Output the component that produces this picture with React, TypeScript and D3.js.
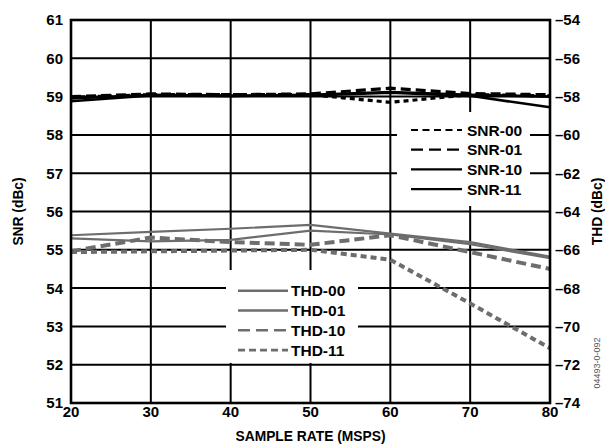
import React from "react";
import * as d3 from "d3";

const sampleRates = [20, 30, 40, 50, 60, 70, 80];
const snr00 = [58.98, 59.05, 59.05, 59.05, 58.85, 59.05, 59.02];
const snr01 = [59.0, 59.07, 59.05, 59.07, 59.22, 59.08, 59.05];
const snr10 = [58.95, 59.05, 59.02, 59.05, 59.12, 59.05, 59.0];
const snr11 = [58.88, 59.03, 59.02, 59.03, 59.1, 59.02, 58.72];
const thd00 = [-65.24, -65.06, -64.9, -64.7, -65.16, -65.6, -66.36];
const thd01 = [-65.4, -65.56, -65.48, -65.0, -65.2, -65.7, -66.44];
const thd10 = [-66.08, -65.36, -65.6, -65.74, -65.24, -66.12, -67.0];
const thd11 = [-66.12, -66.08, -66.04, -66.0, -66.52, -68.8, -71.14];
const snrTicks = [51, 52, 53, 54, 55, 56, 57, 58, 59, 60, 61];
const thdTicks = [-74, -72, -70, -68, -66, -64, -62, -60, -58, -56, -54];
const xTicks = [20, 30, 40, 50, 60, 70, 80];

const FONT = "'Liberation Sans', Arial, sans-serif";
const GRAY = "#6d6d6d";

export default function App() {
  const L = 71, R = 550, T = 20, B = 403;
  const x = d3.scaleLinear().domain([20, 80]).range([L, R]);
  const yL = d3.scaleLinear().domain([51, 61]).range([B, T]);
  const yR = d3.scaleLinear().domain([-74, -54]).range([B, T]);

  const lineL = d3.line<number>().x((_, i) => x(sampleRates[i])).y((d) => yL(d));
  const lineR = d3.line<number>().x((_, i) => x(sampleRates[i])).y((d) => yR(d));

  const snrSeries = [
    { name: "SNR-00", data: snr00, dash: "5,4", w: 3.2, lw: 2.2, ldash: "7,4.5" },
    { name: "SNR-01", data: snr01, dash: "10,5", w: 3.2, lw: 2.2, ldash: "12,6" },
    { name: "SNR-10", data: snr10, dash: "", w: 2.6, lw: 2.2, ldash: "" },
    { name: "SNR-11", data: snr11, dash: "", w: 2.6, lw: 2.2, ldash: "" },
  ];
  const thdSeries = [
    { name: "THD-00", data: thd00, dash: "", w: 2.2, lw: 2.4, ldash: "" },
    { name: "THD-01", data: thd01, dash: "", w: 2.2, lw: 2.4, ldash: "" },
    { name: "THD-10", data: thd10, dash: "10,5", w: 4, lw: 2.6, ldash: "12,6" },
    { name: "THD-11", data: thd11, dash: "6,4", w: 4, lw: 2.6, ldash: "7,4" },
  ];

  const fs = 15;
  const lfs = 15.5;

  return (
    <svg
      width={605}
      height={448}
      style={{ position: "absolute", left: 0, top: 0, background: "#fff" }}
      fontFamily={FONT}
    >
      <rect x={0} y={0} width={605} height={448} fill="#fff" />
      {/* gridlines */}
      {snrTicks.map((t) => (
        <line key={"h" + t} x1={L} x2={R} y1={yL(t)} y2={yL(t)} stroke="#000" strokeWidth={2} />
      ))}
      {xTicks.map((t) => (
        <line key={"v" + t} x1={x(t)} x2={x(t)} y1={T} y2={B} stroke="#000" strokeWidth={2} />
      ))}
      {/* legend backgrounds */}
      <rect x={397} y={112} width={133} height={94} fill="#fff" />
      <rect x={226} y={270} width={132} height={93} fill="#fff" />

      {/* THD lines */}
      {thdSeries.map((s) => (
        <path
          key={s.name}
          d={lineR(s.data) || ""}
          fill="none"
          stroke={GRAY}
          strokeWidth={s.w}
          strokeDasharray={s.dash || undefined}
        />
      ))}
      {/* SNR lines */}
      {snrSeries.map((s) => (
        <path
          key={s.name}
          d={lineL(s.data) || ""}
          fill="none"
          stroke="#000"
          strokeWidth={s.w}
          strokeDasharray={s.dash || undefined}
        />
      ))}

      {/* frame */}
      <rect x={L} y={T} width={R - L} height={B - T} fill="none" stroke="#000" strokeWidth={2.6} />

      {/* SNR legend */}
      {snrSeries.map((s, i) => {
        const yy = 130 + i * 19.7;
        return (
          <g key={"ls" + s.name}>
            <line x1={411} x2={462} y1={yy} y2={yy} stroke="#000" strokeWidth={s.lw} strokeDasharray={s.ldash || undefined} />
            <text x={467} y={yy} dy="0.36em" fontSize={lfs} fontWeight="bold">
              {s.name}
            </text>
          </g>
        );
      })}
      {/* THD legend */}
      {thdSeries.map((s, i) => {
        const yy = 290.7 + i * 19.8;
        return (
          <g key={"lt" + s.name}>
            <line x1={238} x2={288} y1={yy} y2={yy} stroke={GRAY} strokeWidth={s.lw} strokeDasharray={s.ldash || undefined} />
            <text x={291} y={yy} dy="0.36em" fontSize={lfs} fontWeight="bold">
              {s.name}
            </text>
          </g>
        );
      })}

      {/* left tick labels */}
      {snrTicks.map((t) => (
        <text key={"tl" + t} x={63} y={yL(t)} dy="0.36em" textAnchor="end" fontSize={fs} fontWeight="bold">
          {t}
        </text>
      ))}
      {/* right tick labels */}
      {thdTicks.map((t) => (
        <text key={"tr" + t} x={555} y={yR(t)} dy="0.36em" textAnchor="start" fontSize={fs} fontWeight="bold">
          {"\u2013" + Math.abs(t)}
        </text>
      ))}
      {/* x tick labels */}
      {xTicks.map((t) => (
        <text key={"tx" + t} x={x(t)} y={B + 14} textAnchor="middle" fontSize={fs} fontWeight="bold">
          {t}
        </text>
      ))}

      {/* axis titles */}
      <text x={(L + R) / 2} y={441} textAnchor="middle" fontSize={13.8} fontWeight="bold">
        SAMPLE RATE (MSPS)
      </text>
      <text transform={`translate(23,${(T + B) / 2}) rotate(-90)`} textAnchor="middle" fontSize={13.8} fontWeight="bold">
        SNR (dBc)
      </text>
      <text transform={`translate(602,${(T + B) / 2}) rotate(-90)`} textAnchor="middle" fontSize={13.8} fontWeight="bold">
        THD (dBc)
      </text>
      <text transform={`translate(600,363) rotate(-90)`} textAnchor="middle" fontSize={9} fill="#555">
        04493-0-092
      </text>
    </svg>
  );
}
